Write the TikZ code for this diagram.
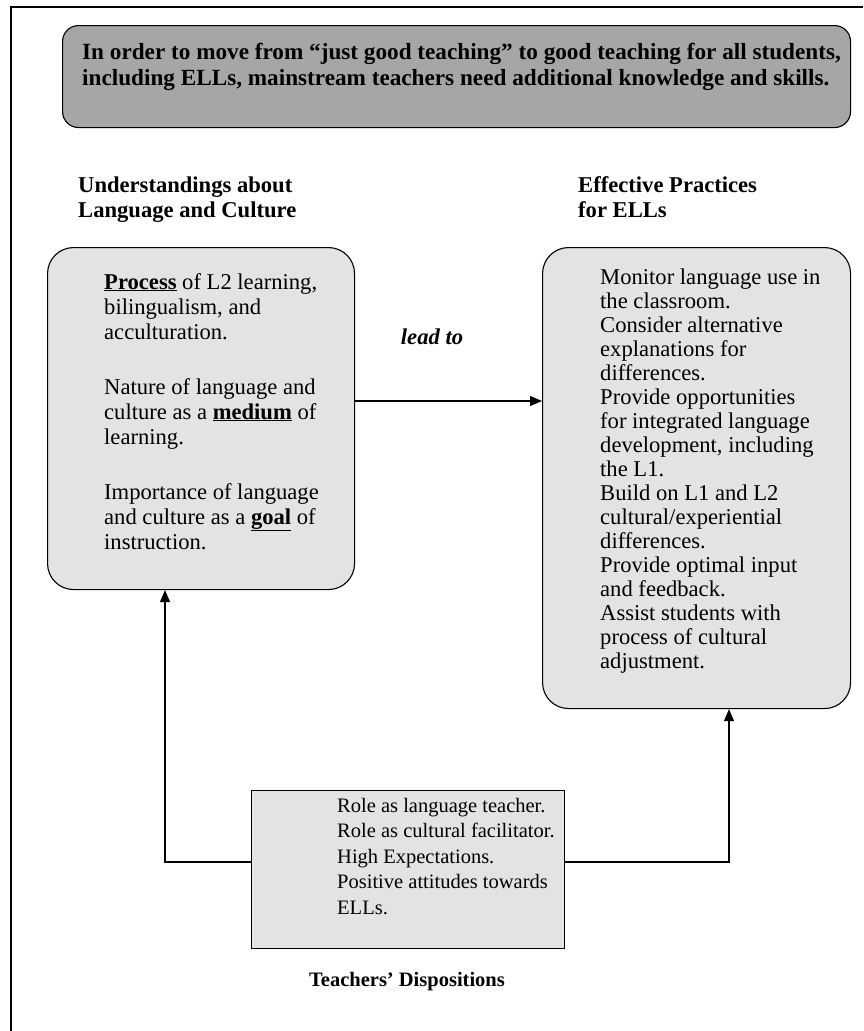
\documentclass[tikz,border=0pt]{standalone}
\usepackage{fontspec}
\setmainfont{Liberation Serif}
\usetikzlibrary{arrows.meta}
\definecolor{topgray}{RGB}{166,166,166}
\definecolor{boxgray}{RGB}{227,227,227}
\begin{document}
\begin{tikzpicture}[x=1pt,y=-1pt,
  frame/.style={line width=2.2pt},
  topbox/.style={draw, line width=1.1pt, fill=topgray, rounded corners=16pt, inner sep=0pt, anchor=north west},
  roundbox/.style={draw, line width=1.1pt, fill=boxgray, rounded corners=26pt, inner sep=0pt, anchor=north west},
  squarebox/.style={draw, line width=1.1pt, fill=boxgray, inner sep=0pt, anchor=north west},
  txt/.style={anchor=base west, inner sep=0pt, font=\fontsize{22.6}{24.6}\selectfont},
  hdr/.style={anchor=base west, inner sep=0pt, font=\fontsize{22.6}{25}\selectfont\bfseries},
  arr/.style={line width=1.1pt, -{Triangle[length=12pt,width=10pt]}},
]
\path[use as bounding box] (0,0) rectangle (863,1031);
\fill[white] (0,0) rectangle (863,1031);
% outer frame (only left and top visible)
\draw[frame] (11,1031) -- (11,7) -- (863,7);

% top box
\node[topbox, minimum width=788pt, minimum height=102pt] (top) at (62,25) {};
\node[anchor=base west, inner sep=0pt, font=\fontsize{23.2}{26}\selectfont\bfseries] (toptext) at (82,59)
  {\parbox[t]{770pt}{\raggedright In order to move from “just good teaching” to good teaching for all students,\\
  including ELLs, mainstream teachers need additional knowledge and skills.}};

% headers
\node[hdr] (hl) at (78,192) {\parbox[t]{300pt}{\raggedright Understandings about\\Language and Culture}};
\node[hdr] (hr) at (578,192) {\parbox[t]{250pt}{\raggedright Effective Practices\\for ELLs}};

% left box
\node[roundbox, minimum width=307pt, minimum height=342pt] (lbox) at (47,247) {};
\node[txt, font=\fontsize{22.6}{25}\selectfont] (ltext) at (104,289) {\parbox[t]{245pt}{\raggedright
\underline{\textbf{Process}} of L2 learning,\\
bilingualism, and\\
acculturation.\\[30pt]
Nature of language and\\
culture as a \underline{\textbf{medium}} of\\
learning.\\[30pt]
Importance of language\\
and culture as a \underline{\textbf{goal}} of\\
instruction.}};

% right box
\node[roundbox, minimum width=308pt, minimum height=461pt] (rbox) at (542,247) {};
\node[txt, font=\fontsize{22.6}{24.06}\selectfont] (rtext) at (600,284) {\parbox[t]{245pt}{\raggedright
Monitor language use in\\
the classroom.\\
Consider alternative\\
explanations for\\
differences.\\
Provide opportunities\\
for integrated language\\
development, including\\
the L1.\\
Build on L1 and L2\\
cultural/experiential\\
differences.\\
Provide optimal input\\
and feedback.\\
Assist students with\\
process of cultural\\
adjustment.}};

% lead to
\node[anchor=base, inner sep=0pt, font=\fontsize{22.6}{25}\selectfont\bfseries\itshape] (lead) at (432,344) {lead to};
\coordinate (a1) at (354,401);
\draw[arr] (a1) -- (a1 -| rbox.west);

% bottom box
\node[squarebox, minimum width=313pt, minimum height=158pt] (bbox) at (251,790) {};
\node[txt, font=\fontsize{20.5}{25.5}\selectfont] (btext) at (337,812) {\parbox[t]{225pt}{\raggedright
Role as language teacher.\\
Role as cultural facilitator.\\
High Expectations.\\
Positive attitudes towards\\
ELLs.}};
\node[anchor=base, inner sep=0pt, font=\fontsize{20.5}{25}\selectfont\bfseries] (disp) at (407,986) {Teachers’ Dispositions};

% connectors from bottom box
\coordinate (yline) at (0,862);
\coordinate (xl) at (165,0);
\coordinate (xr) at (729,0);
\draw[arr] (bbox.west |- yline) -| (xl |- lbox.south);
\draw[arr] (bbox.east |- yline) -| (xr |- rbox.south);
\end{tikzpicture}
\end{document}
